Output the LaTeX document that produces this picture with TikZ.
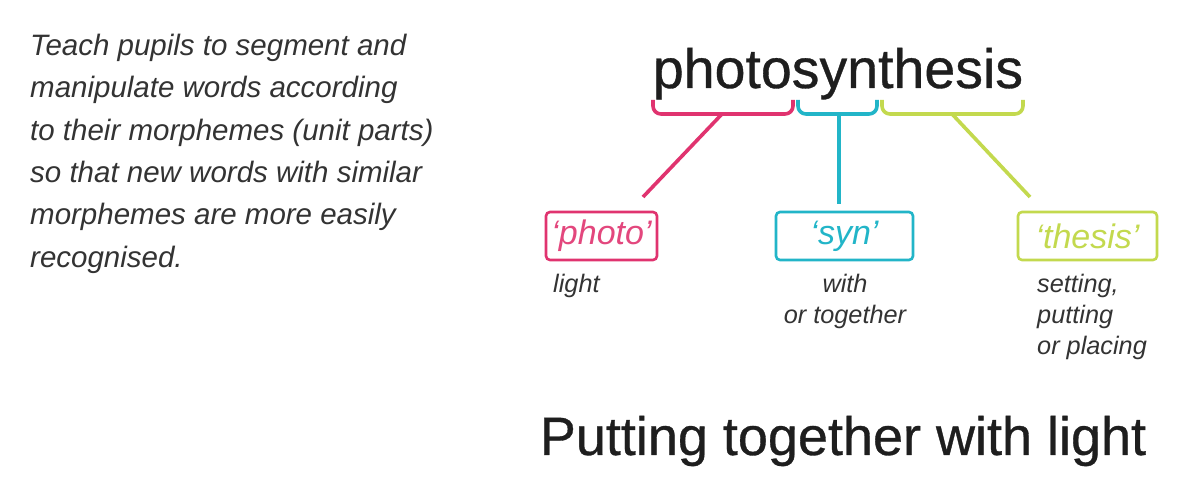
\documentclass[tikz,border=0pt]{standalone}
\usepackage{fontspec}
\setmainfont{Liberation Sans}
\newfontfamily\medsans[FakeBold=0.6]{Liberation Sans}
\definecolor{cpink}{HTML}{E0336F}
\definecolor{ccyan}{HTML}{22B5C8}
\definecolor{cgreen}{HTML}{C3D94E}
\definecolor{ctext}{HTML}{333333}
\definecolor{cdark}{HTML}{1E1E1E}
\tikzset{
  morphbox/.style={draw, line width=2.6pt, rounded corners=4pt, inner sep=0pt,
    minimum height=48pt, font=\fontsize{34}{40}\selectfont\itshape},
  bracketline/.style={line width=3.6pt, rounded corners=8pt},
  linkline/.style={line width=3.6pt},
  meaning/.style={text=ctext, font=\fontsize{25.3}{31}\selectfont\itshape, inner sep=0pt, align=left}
}
\begin{document}
\begin{tikzpicture}[x=1pt,y=-1pt]
\useasboundingbox[fill=white] (0,0) rectangle (1200,502);
% left text
\node[anchor=north west, inner sep=0pt, text=ctext, align=left,
  font=\fontsize{29.5}{42.3}\selectfont\itshape] (intro) at (30,34)
  {Teach pupils to segment and\\manipulate words according\\to their morphemes (unit parts)\\so that new words with similar\\morphemes are more easily\\recognised.};
% word
\node[anchor=base, inner sep=0pt, text=cdark, font=\fontsize{55.5}{60}\selectfont\medsans] (word) at (838,88) {photosynthesis};
% brackets
\coordinate (pA) at (653,100); \coordinate (pB) at (793,100); \coordinate (pM) at (722,114);
\coordinate (cA) at (798,100); \coordinate (cB) at (877,100); \coordinate (cM) at (839,114);
\coordinate (gA) at (882,100); \coordinate (gB) at (1023,100); \coordinate (gM) at (952,114);
\draw[bracketline, cpink] (pA) -- (653,114) -- (793,114) -- (pB);
\draw[bracketline, ccyan] (cA) -- (798,114) -- (877,114) -- (cB);
\draw[bracketline, cgreen] (gA) -- (882,114) -- (1023,114) -- (gB);
% boxes
\node[morphbox, draw=cpink, text=cpink!90, minimum width=111pt] (photo) at (601.5,236) {‘photo’};
\node[morphbox, draw=ccyan, text=ccyan, minimum width=137pt] (syn) at (844.5,236) {‘syn’};
\node[morphbox, draw=cgreen, text=cgreen, minimum width=139pt] (thesis) at (1087.5,236) {‘thesis’};
% connectors
\coordinate (pE) at (643,197);
\coordinate (cE) at (839,204);
\coordinate (gE) at (1030,197);
\draw[linkline, cpink] (pM) -- (pE);
\draw[linkline, ccyan] (cM) -- (cE);
\draw[linkline, cgreen] (gM) -- (gE);
% meanings (base anchor = last line's baseline)
\node[meaning, anchor=base west] (m1) at (553,293) {light};
\node[meaning, anchor=base, align=center] (m2) at (845,324) {with\\or together};
\node[meaning, anchor=base west] (m3) at (1037,355) {setting,\\putting\\or placing};
% summary
\node[anchor=base, inner sep=0pt, text=cdark, font=\fontsize{54}{60}\selectfont\medsans] (sum) at (843,455) {Putting together with light};
\end{tikzpicture}
\end{document}
